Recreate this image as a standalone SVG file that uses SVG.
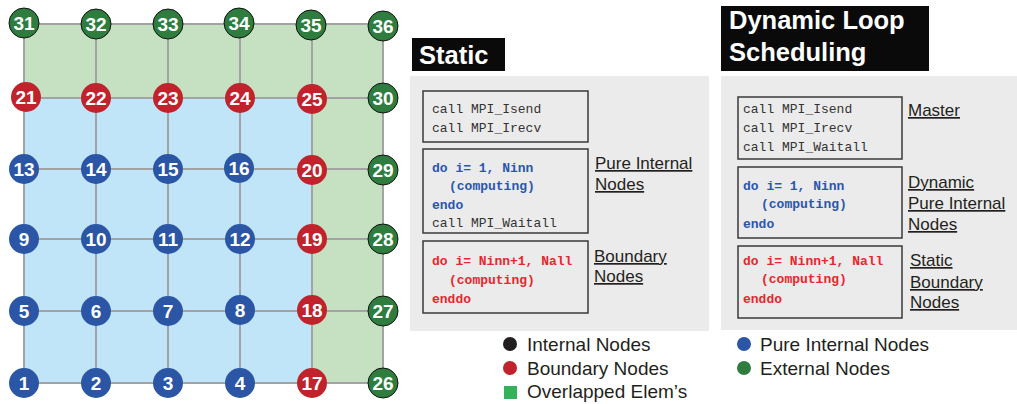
<svg xmlns="http://www.w3.org/2000/svg" width="1017" height="404" viewBox="0 0 1017 404">
<style>
.gl{stroke:#a3a3a3;stroke-width:2;fill:none}
.nb{fill:#2a56a5}
.nr{fill:#c0232c}
.ng{fill:#2e7d3e;stroke:#111;stroke-width:1}
.nl{font-family:"Liberation Sans",Arial,sans-serif;font-weight:bold;font-size:19px;fill:#fff;text-anchor:middle}
.ttl{font-family:"Liberation Sans",Arial,sans-serif;font-weight:bold;font-size:25.5px;fill:#fff}
.panel{fill:#ebebeb}
.box{fill:#ebebeb;stroke:#3a3a3a;stroke-width:1.5}
.code{font-family:"Liberation Mono","DejaVu Sans Mono",monospace;font-size:13px;fill:#333}
.cb{fill:#2a56b0;font-weight:bold}
.cr{fill:#e8262d;font-weight:bold}
.lab{font-family:"Liberation Sans",Arial,sans-serif;font-size:17px;fill:#231f20;text-decoration:underline}
.leg{font-family:"Liberation Sans",Arial,sans-serif;font-size:19px;fill:#231f20}
</style>
<g id="mesh">
<rect x="24" y="24" width="359" height="74" fill="#c5e1c1"/>
<rect x="312" y="98" width="71" height="285" fill="#c5e1c1"/>
<rect x="24" y="98" width="288" height="285" fill="#c1e5f8"/>
</g>
<g id="connectors">
<path class="gl" d="M24,24H383M24,98H383M24,169H383M24,239H383M24,311H383M24,383H383M24,24V383M96,24V383M168,24V383M240,24V383M312,24V383M383,24V383"/>
</g>
<g id="n31"><circle class="ng" cx="24" cy="23" r="15"/><text class="nl" x="24" y="30">31</text></g>
<g id="n32"><circle class="ng" cx="96" cy="24" r="15"/><text class="nl" x="96" y="31">32</text></g>
<g id="n33"><circle class="ng" cx="168" cy="24" r="15"/><text class="nl" x="168" y="31">33</text></g>
<g id="n34"><circle class="ng" cx="239" cy="23" r="15"/><text class="nl" x="239" y="30">34</text></g>
<g id="n35"><circle class="ng" cx="311" cy="25" r="15"/><text class="nl" x="311" y="32">35</text></g>
<g id="n36"><circle class="ng" cx="383" cy="26" r="15"/><text class="nl" x="383" y="33">36</text></g>
<g id="n21"><circle class="nr" cx="26" cy="97" r="15"/><text class="nl" x="26" y="104">21</text></g>
<g id="n22"><circle class="nr" cx="96" cy="98" r="15"/><text class="nl" x="96" y="105">22</text></g>
<g id="n23"><circle class="nr" cx="168" cy="98" r="15"/><text class="nl" x="168" y="105">23</text></g>
<g id="n24"><circle class="nr" cx="240" cy="98" r="15"/><text class="nl" x="240" y="105">24</text></g>
<g id="n25"><circle class="nr" cx="312" cy="99" r="15"/><text class="nl" x="312" y="106">25</text></g>
<g id="n30"><circle class="ng" cx="383" cy="98" r="15"/><text class="nl" x="383" y="105">30</text></g>
<g id="n13"><circle class="nb" cx="24" cy="169" r="15"/><text class="nl" x="24" y="176">13</text></g>
<g id="n14"><circle class="nb" cx="96" cy="169" r="15"/><text class="nl" x="96" y="176">14</text></g>
<g id="n15"><circle class="nb" cx="168" cy="169" r="15"/><text class="nl" x="168" y="176">15</text></g>
<g id="n16"><circle class="nb" cx="239" cy="168" r="15"/><text class="nl" x="239" y="175">16</text></g>
<g id="n20"><circle class="nr" cx="312" cy="170" r="15"/><text class="nl" x="312" y="177">20</text></g>
<g id="n29"><circle class="ng" cx="383" cy="170" r="15"/><text class="nl" x="383" y="177">29</text></g>
<g id="n9"><circle class="nb" cx="24" cy="239" r="15"/><text class="nl" x="24" y="246">9</text></g>
<g id="n10"><circle class="nb" cx="96" cy="239" r="15"/><text class="nl" x="96" y="246">10</text></g>
<g id="n11"><circle class="nb" cx="168" cy="239" r="15"/><text class="nl" x="168" y="246">11</text></g>
<g id="n12"><circle class="nb" cx="240" cy="239" r="15"/><text class="nl" x="240" y="246">12</text></g>
<g id="n19"><circle class="nr" cx="312" cy="239" r="15"/><text class="nl" x="312" y="246">19</text></g>
<g id="n28"><circle class="ng" cx="383" cy="239" r="15"/><text class="nl" x="383" y="246">28</text></g>
<g id="n5"><circle class="nb" cx="24" cy="311" r="15"/><text class="nl" x="24" y="318">5</text></g>
<g id="n6"><circle class="nb" cx="96" cy="311" r="15"/><text class="nl" x="96" y="318">6</text></g>
<g id="n7"><circle class="nb" cx="168" cy="311" r="15"/><text class="nl" x="168" y="318">7</text></g>
<g id="n8"><circle class="nb" cx="240" cy="310" r="15"/><text class="nl" x="240" y="317">8</text></g>
<g id="n18"><circle class="nr" cx="312" cy="310" r="15"/><text class="nl" x="312" y="317">18</text></g>
<g id="n27"><circle class="ng" cx="383" cy="311" r="15"/><text class="nl" x="383" y="318">27</text></g>
<g id="n1"><circle class="nb" cx="24" cy="383" r="15"/><text class="nl" x="24" y="390">1</text></g>
<g id="n2"><circle class="nb" cx="96" cy="383" r="15"/><text class="nl" x="96" y="390">2</text></g>
<g id="n3"><circle class="nb" cx="168" cy="383" r="15"/><text class="nl" x="168" y="390">3</text></g>
<g id="n4"><circle class="nb" cx="240" cy="383" r="15"/><text class="nl" x="240" y="390">4</text></g>
<g id="n17"><circle class="nr" cx="312" cy="383" r="15"/><text class="nl" x="312" y="390">17</text></g>
<g id="n26"><circle class="ng" cx="383" cy="383" r="15"/><text class="nl" x="383" y="390">26</text></g>

<g id="static">
<rect x="412" y="38" width="93" height="33" fill="#0a0a0a"/>
<text class="ttl" x="419" y="64">Static</text>
<rect class="panel" x="410" y="76" width="299" height="255"/>
<rect class="box" x="423" y="91" width="165" height="51"/>
<text class="code" x="432" y="113">call MPI_Isend</text>
<text class="code" x="432" y="132">call MPI_Irecv</text>
<rect class="box" x="423" y="149" width="165" height="84"/>
<text class="code cb" x="432" y="172">do i= 1, Ninn</text>
<text class="code cb" x="449" y="190">(computing)</text>
<text class="code cb" x="432" y="209">endo</text>
<text class="code" x="432" y="227">call MPI_Waitall</text>
<rect class="box" x="423" y="241" width="165" height="72"/>
<text class="code cr" x="432" y="265">do i= Ninn+1, Nall</text>
<text class="code cr" x="449" y="284">(computing)</text>
<text class="code cr" x="432" y="303">enddo</text>
<text class="lab" x="595" y="169">Pure Internal</text>
<text class="lab" x="595" y="190">Nodes</text>
<text class="lab" x="594" y="262">Boundary</text>
<text class="lab" x="594" y="282">Nodes</text>
</g>

<g id="dynamic">
<rect x="721" y="6" width="208" height="65" fill="#0a0a0a"/>
<text class="ttl" x="729" y="29">Dynamic Loop</text>
<text class="ttl" x="729" y="61">Scheduling</text>
<rect class="panel" x="721" y="76" width="296" height="254"/>
<rect class="box" x="738" y="97" width="164" height="62"/>
<text class="code" x="743" y="113">call MPI_Isend</text>
<text class="code" x="743" y="132">call MPI_Irecv</text>
<text class="code" x="743" y="151">call MPI_Waitall</text>
<rect class="box" x="738" y="167" width="164" height="71"/>
<text class="code cb" x="743" y="190">do i= 1, Ninn</text>
<text class="code cb" x="761" y="208">(computing)</text>
<text class="code cb" x="743" y="228">endo</text>
<rect class="box" x="738" y="246" width="164" height="72"/>
<text class="code cr" x="743" y="265">do i= Ninn+1, Nall</text>
<text class="code cr" x="761" y="283">(computing)</text>
<text class="code cr" x="743" y="303">enddo</text>
<text class="lab" x="908" y="116">Master</text>
<text class="lab" x="908" y="188">Dynamic</text>
<text class="lab" x="908" y="209">Pure Internal</text>
<text class="lab" x="908" y="230">Nodes</text>
<text class="lab" x="910" y="266">Static</text>
<text class="lab" x="910" y="288">Boundary</text>
<text class="lab" x="910" y="308">Nodes</text>
</g>

<g id="legend">
<circle cx="510" cy="344" r="7" fill="#231f20"/>
<text class="leg" x="527" y="351">Internal Nodes</text>
<circle cx="510" cy="368" r="7" fill="#c0232c"/>
<text class="leg" x="527" y="375">Boundary Nodes</text>
<rect x="504" y="386" width="13" height="13" fill="#34b25a"/>
<text class="leg" x="527" y="398">Overlapped Elem’s</text>
<circle cx="744" cy="344" r="7" fill="#2a56a5"/>
<text class="leg" x="760" y="351">Pure Internal Nodes</text>
<circle cx="744" cy="368" r="7" fill="#2e7d3e"/>
<text class="leg" x="760" y="375">External Nodes</text>
</g>
</svg>
